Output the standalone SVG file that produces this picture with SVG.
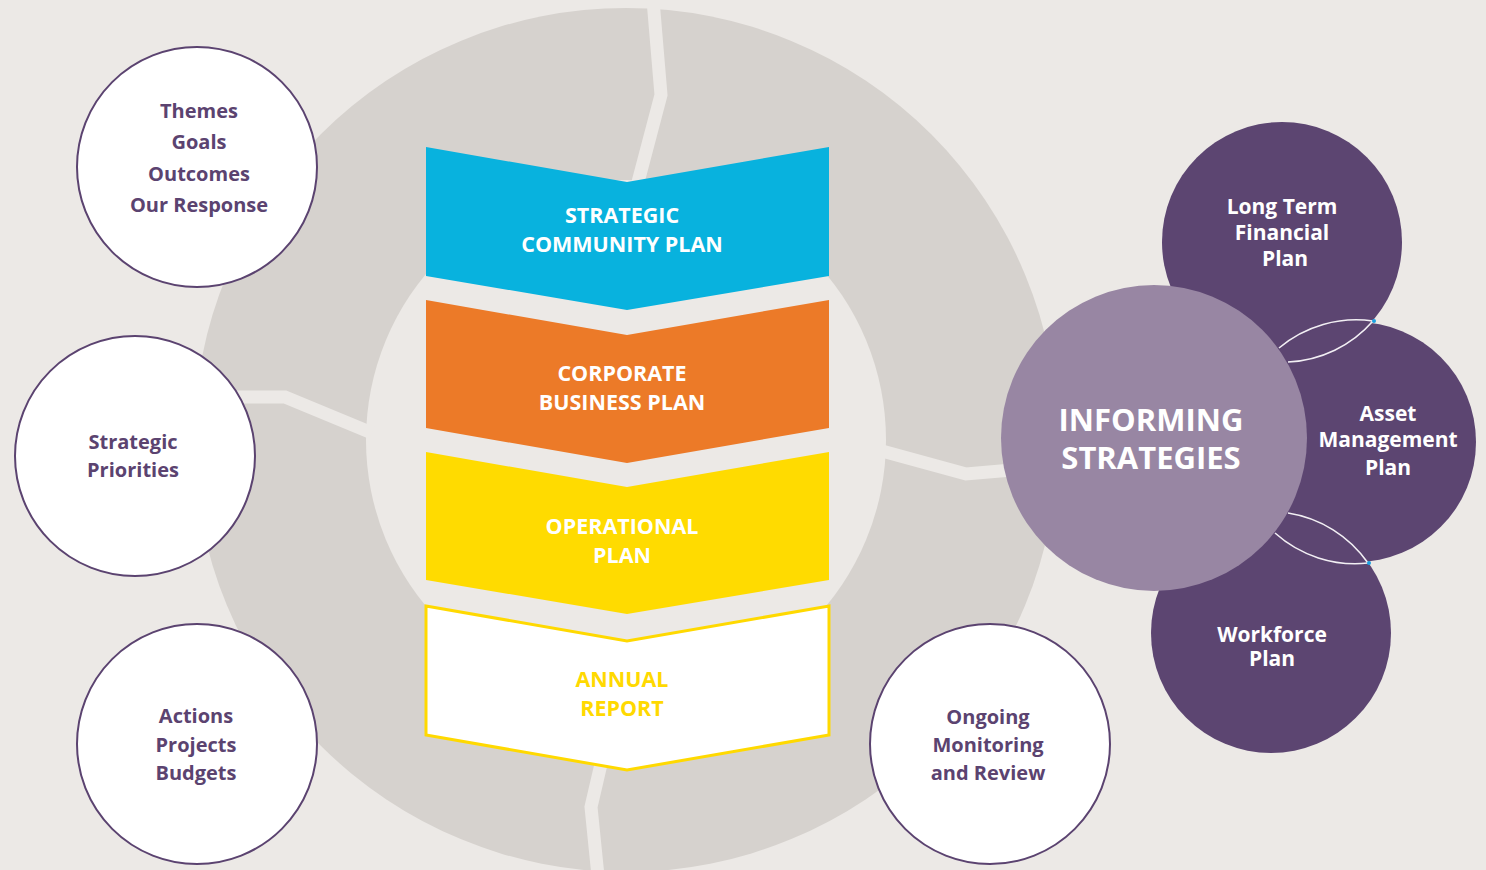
<svg xmlns="http://www.w3.org/2000/svg" width="1486" height="870" viewBox="0 0 1486 870">
<style>
.bg{fill:#ECE9E6}
.ring{fill:#D6D2CE}
.div{fill:none;stroke:#ECE9E6;stroke-width:13;stroke-linejoin:miter}
.wc{fill:#FFFFFF;stroke:#5B4370;stroke-width:2}
.dc{fill:#5C4571}
.lt{font-family:"Open Sans","Noto Sans","DejaVu Sans",sans-serif;font-weight:700;font-size:20px;fill:#5B4370;text-anchor:middle}
.ct{font-family:"Open Sans","Noto Sans","DejaVu Sans",sans-serif;font-weight:700;font-size:21.5px;fill:#FFFFFF;text-anchor:middle}
.rt{font-family:"Open Sans","Noto Sans","DejaVu Sans",sans-serif;font-weight:700;font-size:21px;fill:#FFFFFF;text-anchor:middle}
.big{font-family:"Open Sans","Noto Sans","DejaVu Sans",sans-serif;font-weight:700;font-size:31px;fill:#FFFFFF;text-anchor:middle}
.lens{fill:none;stroke:#F2EFF4;stroke-width:1.6}
</style>
<rect class="bg" x="0" y="0" width="1486" height="870"/>
<g id="cycle">
<circle class="ring" cx="626" cy="440" r="432"/>
<circle class="bg" cx="626" cy="440" r="260"/>
</g>
<g id="connectors">
<polyline class="div" points="653,0 661,95 637,186"/>
<polyline class="div" points="190,397 285,397 372,433"/>
<polyline class="div" points="882,451 966,474 1012,470"/>
<polyline class="div" points="601,764 591,807 598,876"/>
</g>
<g id="strategic-community-plan">
<path d="M426,147 L627,182 L829,147 L829,276 L627,310 L426,276 Z" fill="#08B2DE"/>
<text class="ct" x="622" y="223">STRATEGIC</text>
<text class="ct" x="622" y="252">COMMUNITY PLAN</text>
</g>
<g id="corporate-business-plan">
<path d="M426,300 L627,335 L829,300 L829,428 L627,463 L426,428 Z" fill="#EC7A28"/>
<text class="ct" x="622" y="381">CORPORATE</text>
<text class="ct" x="622" y="410">BUSINESS PLAN</text>
</g>
<g id="operational-plan">
<path d="M426,452 L627,487 L829,452 L829,580 L627,614 L426,580 Z" fill="#FFDB00"/>
<text class="ct" x="622" y="534">OPERATIONAL</text>
<text class="ct" x="622" y="563">PLAN</text>
</g>
<g id="annual-report">
<path d="M426,606 L627,641 L829,606 L829,735 L627,770 L426,735 Z" fill="#FFFFFF" stroke="#FFD900" stroke-width="3"/>
<text class="ct" x="622" y="687" style="fill:#FFD900">ANNUAL</text>
<text class="ct" x="622" y="716" style="fill:#FFD900">REPORT</text>
</g>
<g id="themes">
<circle class="wc" cx="197" cy="167" r="120"/>
<text class="lt" x="199" y="118">Themes</text>
<text class="lt" x="199" y="149">Goals</text>
<text class="lt" x="199" y="181">Outcomes</text>
<text class="lt" x="199" y="212">Our Response</text>
</g>
<g id="strategic-priorities">
<circle class="wc" cx="135" cy="456" r="120"/>
<text class="lt" x="133" y="449">Strategic</text>
<text class="lt" x="133" y="477">Priorities</text>
</g>
<g id="actions">
<circle class="wc" cx="197" cy="744" r="120"/>
<text class="lt" x="196" y="723">Actions</text>
<text class="lt" x="196" y="752">Projects</text>
<text class="lt" x="196" y="780">Budgets</text>
</g>
<g id="monitoring">
<circle class="wc" cx="990" cy="744" r="120"/>
<text class="lt" x="988" y="724">Ongoing</text>
<text class="lt" x="988" y="752">Monitoring</text>
<text class="lt" x="988" y="780">and Review</text>
</g>
<g id="long-term-financial-plan">
<circle class="dc" cx="1282" cy="242" r="120"/>
<text class="rt" x="1282" y="214">Long Term</text>
<text class="rt" x="1282" y="240">Financial</text>
<text class="rt" x="1285" y="266">Plan</text>
</g>
<g id="asset-management-plan">
<circle class="dc" cx="1356" cy="442" r="120"/>
<text class="rt" x="1388" y="421">Asset</text>
<text class="rt" x="1388" y="447">Management</text>
<text class="rt" x="1388" y="475">Plan</text>
</g>
<g id="workforce-plan">
<circle class="dc" cx="1271" cy="633" r="120"/>
<text class="rt" x="1272" y="642">Workforce</text>
<text class="rt" x="1272" y="666">Plan</text>
</g>
<g id="overlaps">
<path class="lens" d="M1279,348 A120,120 0 0 1 1373,321"/>
<path class="lens" d="M1288,362 A120,120 0 0 0 1373,321"/>
<path class="lens" d="M1288,513 A120,120 0 0 1 1368,563"/>
<path class="lens" d="M1275,533 A120,120 0 0 0 1368,563"/>
<circle cx="1374" cy="321" r="2" fill="#1BA1E2"/>
<circle cx="1369" cy="563" r="2" fill="#1BA1E2"/>
</g>
<g id="informing-strategies">
<circle cx="1154" cy="438" r="153" fill="#9886A3"/>
<text class="big" x="1151" y="431">INFORMING</text>
<text class="big" x="1151" y="469">STRATEGIES</text>
</g>
</svg>
